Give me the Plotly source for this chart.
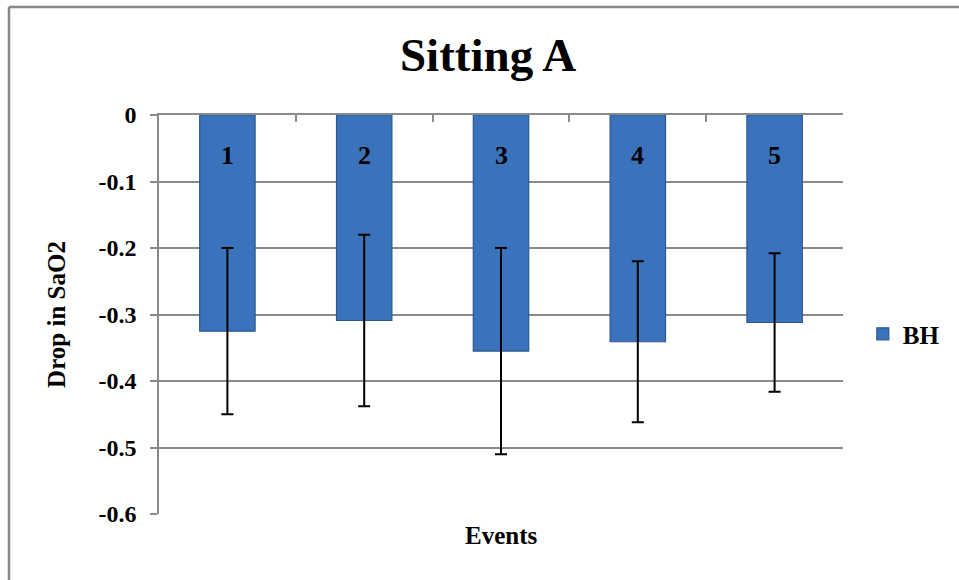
import plotly.graph_objects as go

# ---- data ----
categories = ["1", "2", "3", "4", "5"]
values = [-0.325, -0.309, -0.355, -0.341, -0.312]
errors = [0.125, 0.129, 0.155, 0.121, 0.104]
series_name = "BH"
y_tickvals = [0, -0.1, -0.2, -0.3, -0.4, -0.5, -0.6]
y_ticktext = ["0", "-0.1", "-0.2", "-0.3", "-0.4", "-0.5", "-0.6"]
title_text = "Sitting A"
x_title = "Events"
y_title = "Drop in SaO2"

FONT = "Liberation Serif, Times New Roman, serif"
GRID = "#8a8a8a"

fig = go.Figure()
fig.add_trace(go.Bar(
    x=categories, y=values, name=series_name,
    width=0.405,
    marker=dict(color="#3A72BC", line=dict(color="#2B5894", width=1.2)),
    error_y=dict(type="data", array=errors, visible=True,
                 color="black", thickness=2, width=6),
    showlegend=True,
))

# category labels inside the bars near the top (x given as category index)
for i, c in enumerate(categories):
    fig.add_annotation(x=i, y=-0.061, xref="x", yref="y", text=c,
                       showarrow=False,
                       font=dict(family=FONT, size=26, color="black", weight="bold"),
                       yanchor="middle")

fig.add_annotation(x=0.5, y=-0.055, xref="paper", yref="paper",
                   text=x_title, showarrow=False,
                   font=dict(family=FONT, size=25, color="black", weight="bold"),
                   yanchor="middle")

# outer chart border (left and top visible)
bx = (9 - 159) / 684
by = 1 + (115 - 7) / 399
fig.add_shape(type="line", xref="paper", yref="paper", x0=bx, x1=bx, y0=by, y1=-0.3,
              line=dict(color="#888888", width=2.5))
fig.add_shape(type="line", xref="paper", yref="paper", x0=bx, x1=1.3, y0=by, y1=by,
              line=dict(color="#888888", width=2.5))

fig.update_layout(
    width=959, height=580,
    margin=dict(l=159, r=116, t=115, b=66),
    paper_bgcolor="white", plot_bgcolor="white",
    font=dict(family=FONT, color="black"),
    title=dict(text=title_text, x=0.509, xanchor="center",
               y=1 - 55 / 580, yanchor="middle", yref="container",
               font=dict(family=FONT, size=47, color="black", weight="bold")),
    legend=dict(x=1.029, y=0.451, xanchor="left", yanchor="middle",
                font=dict(family=FONT, size=25, color="black", weight="bold"),
                bgcolor="rgba(0,0,0,0)", itemwidth=30),
)
fig.update_xaxes(type="category", range=[-0.5, len(categories) - 0.5],
                 side="top", showticklabels=False,
                 ticks="inside", ticklen=7,
                 tickcolor=GRID, tickwidth=1.5, tickson="boundaries",
                 showline=True, linecolor=GRID, linewidth=1.5,
                 showgrid=False, zeroline=False, fixedrange=True)
fig.update_yaxes(range=[-0.6, 0], tickvals=y_tickvals, ticktext=y_ticktext,
                 ticks="outside", ticklen=7, tickcolor=GRID, tickwidth=1.5,
                 showline=True, linecolor=GRID, linewidth=1.5,
                 showgrid=True, gridcolor=GRID, gridwidth=1.5, zeroline=False,
                 tickfont=dict(family=FONT, size=24, color="black", weight="bold"),
                 title=dict(text=y_title, standoff=26,
                            font=dict(family=FONT, size=25, color="black", weight="bold")),
                 ticklabelstandoff=9)

fig.write_html("out.html", post_script="document.body.style.margin='0';",
               config={"displayModeBar": False})
